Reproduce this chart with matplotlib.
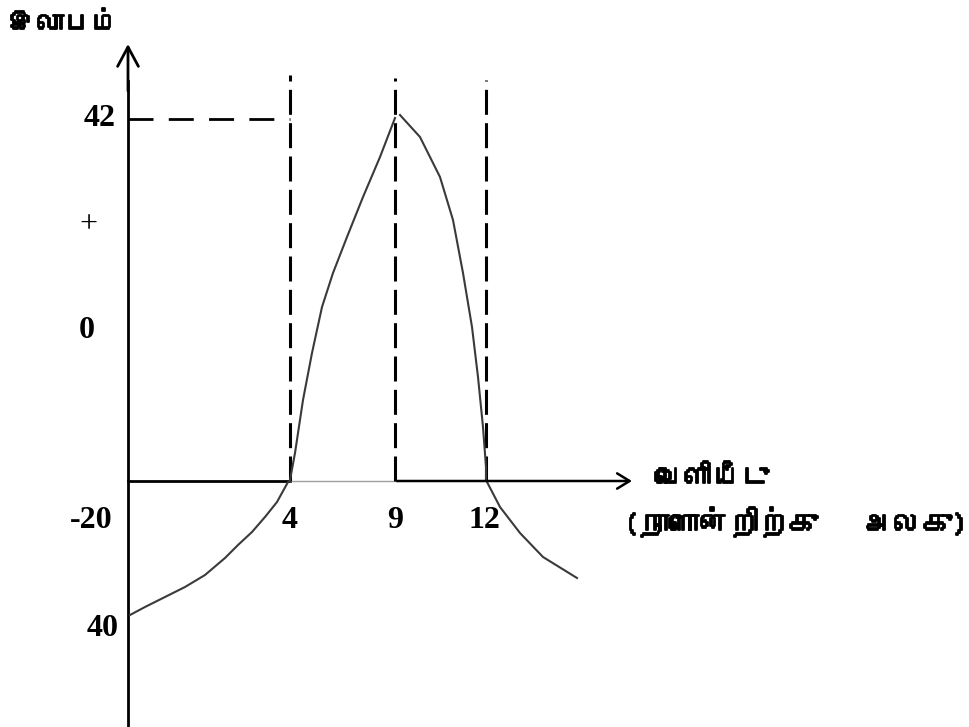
import matplotlib
matplotlib.use("Agg")
import matplotlib.pyplot as plt
import matplotlib.patheffects as pe
from matplotlib import font_manager
from matplotlib.ft2font import FT2Font

# sketch units: 1 unit = 10 px, origin where the two axes cross
# tick labels and where they sit on the sketch
x_ticks = [16.2, 26.7, 35.8]
x_labels = ["4", "9", "12"]
y_ticks = [36.2, 25.6, 15.1, -4.0, -14.7]
y_labels = ["42", "+", "0", "-20", "40"]

# profit curve (output, profit)
left_x = [0.2, 1.7, 3.7, 5.7, 7.7, 9.7, 11.0, 12.4, 13.7, 14.9, 16.0, 16.2]
left_y = [-13.4, -12.6, -11.6, -10.6, -9.4, -7.7, -6.4, -5.1, -3.6, -2.1, -0.1, 0.0]
rise_x = [16.2, 16.7, 17.5, 18.4, 19.4, 20.5, 21.9, 23.5, 25.2, 26.7]
rise_y = [0.1, 2.8, 8.1, 12.8, 17.4, 20.8, 24.4, 28.4, 32.4, 36.3]
fall_x = [27.2, 29.2, 31.2, 32.5, 33.5, 34.4, 35.0, 35.5, 35.8, 35.8]
fall_y = [36.6, 34.4, 30.4, 26.1, 20.8, 15.4, 10.4, 5.4, 1.4, 0.1]
tail_x = [35.9, 37.2, 39.2, 41.5, 44.9]
tail_y = [-0.1, -2.6, -5.2, -7.6, -9.7]

peak_profit = 36.2
y_label = "இலாபம்"
x_label = "வெளியீடு"
x_unit = "(நாளொன்றிற்கு   அலகு)"


def tamil_family():
    # look for any installed font that covers Tamil letters
    for f in font_manager.fontManager.ttflist:
        try:
            cmap = FT2Font(f.fname).get_charmap()
        except Exception:
            continue
        if 0x0B87 in cmap and 0x0BB2 in cmap:
            return f.name
    return "DejaVu Sans"


tam = [tamil_family(), "DejaVu Sans"]
serif = "Liberation Serif"
plt.rcParams["lines.scale_dashes"] = False
thick = [pe.withStroke(linewidth=1.3, foreground="black")]

fig = plt.figure(figsize=(9.7, 7.27), dpi=100)
ax = fig.add_axes([0, 0, 1, 1])
ax.set_xlim(-12.8, 84.2)
ax.set_ylim(-24.6, 48.1)
ax.axis("off")

# axes with open arrow heads
ax.plot([0, 0], [-24.6, 40], color="black", lw=2)
ax.annotate("", xy=(0, 43.7), xytext=(0, 39),
            arrowprops=dict(arrowstyle="->,head_length=1.4,head_width=0.75",
                            lw=2, color="black", shrinkA=0, shrinkB=0))
ax.plot([0, x_ticks[0]], [0, 0], color="black", lw=2)
ax.plot([x_ticks[0], x_ticks[1] + 0.2], [0, 0], color="#a0a0a0", lw=1)
ax.annotate("", xy=(50.4, 0), xytext=(x_ticks[1] + 0.2, 0),
            arrowprops=dict(arrowstyle="->,head_length=0.9,head_width=0.55",
                            lw=1.8, color="black", shrinkA=0, shrinkB=0))

# dashed guides
dash = (0, (18, 6))
tops = [40.6, 40.3, 40.1]
for xv, top in zip(x_ticks, tops):
    ax.plot([xv, xv], [0, top], color="black", lw=2.2, linestyle=dash)
ax.plot([0, x_ticks[0]], [peak_profit, peak_profit], color="black", lw=2,
        linestyle=(0, (18, 11)))

# the curve
for xs, ys in [(left_x, left_y), (rise_x, rise_y), (fall_x, fall_y), (tail_x, tail_y)]:
    ax.plot(xs, ys, color="#3a3a3a", lw=1.5)

# tick labels
y_label_x = [-2.8, -4.0, -4.1, -3.7, -2.5]
for xv, yv, t in zip(y_label_x, y_ticks, y_labels):
    ax.text(xv, yv, t, ha="center", va="center", family=serif, fontsize=23,
            fontweight="normal" if t == "+" else "bold")
for xv, t in zip(x_ticks, x_labels):
    ax.text(xv - (0.2 if t == "12" else 0), -3.9, t, ha="center", va="center",
            family=serif, fontsize=23, fontweight="bold")

ax.text(-12.0, 45.7, y_label, ha="left", va="center", family=tam, fontsize=20,
        fontweight="bold", path_effects=thick)
ax.text(52.7, 0.3, x_label, ha="left", va="center", family=tam, fontsize=20.5,
        fontweight="bold", path_effects=thick)
ax.text(49.6, -4.1, x_unit, ha="left", va="center", family=tam, fontsize=21.5,
        fontweight="bold", path_effects=thick)

fig.savefig("out.png", dpi=100)
